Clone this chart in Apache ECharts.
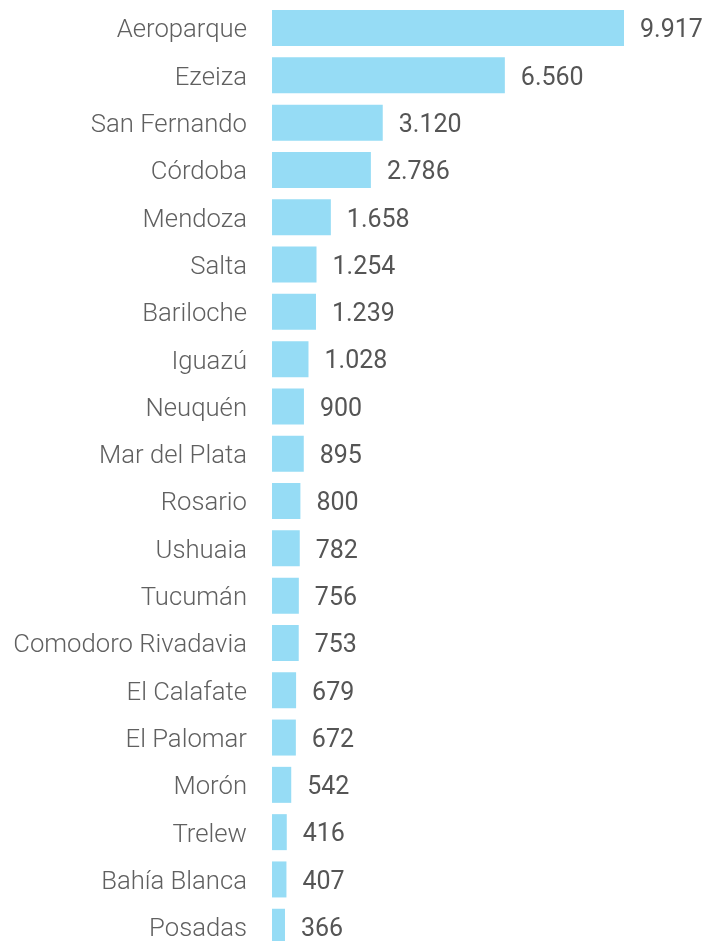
<!DOCTYPE html>
<html>
<head>
<meta charset="utf-8">
<script src="https://cdn.jsdelivr.net/npm/echarts@6/dist/echarts.min.js"></script>
<style>
html, body { margin: 0; padding: 0; background: #fff; }
#main { width: 708px; height: 941px; }
</style>
</head>
<body>
<div id="main"></div>
<script>
// aeropuertos y valores (de arriba hacia abajo)
const airports = ['Aeroparque', 'Ezeiza', 'San Fernando', 'Córdoba', 'Mendoza', 'Salta', 'Bariloche', 'Iguazú', 'Neuquén', 'Mar del Plata', 'Rosario', 'Ushuaia', 'Tucumán', 'Comodoro Rivadavia', 'El Calafate', 'El Palomar', 'Morón', 'Trelew', 'Bahía Blanca', 'Posadas'];
const values = [9917, 6560, 3120, 2786, 1658, 1254, 1239, 1028, 900, 895, 800, 782, 756, 753, 679, 672, 542, 416, 407, 366];

// formato con punto de miles
function fmt(v) {
    return String(v).replace(/\B(?=(\d{3})+(?!\d))/g, '.');
}

var myChart = echarts.init(document.getElementById('main'));
let option = {
    animation: false,
    grid: {
        left: 272,
        top: 4.4,
        width: 352,
        height: 946,
        outerBoundsMode: 'none',
        containLabel: false
    },
    xAxis: {
        type: 'value',
        min: 0,
        max: 9917,
        show: false
    },
    yAxis: {
        type: 'category',
        inverse: true,
        data: airports,
        axisLine: { show: false },
        axisTick: { show: false },
        axisLabel: {
            margin: 25,
            formatter: v => '{a|' + v + '}',
            rich: {
                a: {
                    padding: [6, 0, 0, 0],
                    fontFamily: 'Roboto',
                    fontWeight: 300,
                    fontSize: 25.7,
                    color: '#606060'
                }
            }
        }
    },
    series: [
        {
            type: 'bar',
            data: values,
            barWidth: 36,
            itemStyle: { color: '#96dcf5' },
            label: {
                show: true,
                position: 'right',
                distance: 16,
                offset: [0, 3],
                fontFamily: 'Roboto',
                fontWeight: 400,
                fontSize: 25,
                color: '#555',
                formatter: p => fmt(p.value)
            }
        }
    ]
};
myChart.setOption(option);
</script>
</body>
</html>
